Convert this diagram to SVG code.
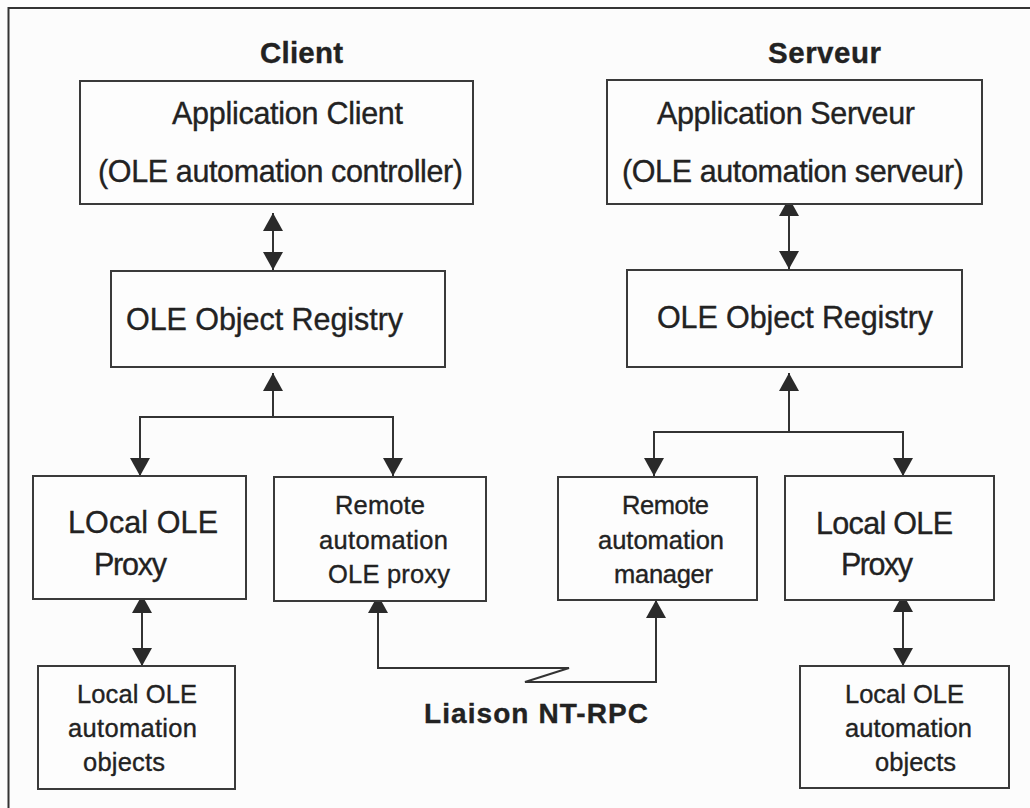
<svg xmlns="http://www.w3.org/2000/svg" width="1030" height="808" viewBox="0 0 1030 808">
<style>
.bg{fill:#fcfcfc}
.frame{fill:none;stroke:#333;stroke-width:2}
.box{fill:#fdfdfd;stroke:#3a3a3a;stroke-width:2}
.t{font-family:"Liberation Sans",Arial,sans-serif;fill:#222;stroke:#222;stroke-width:0.35;text-anchor:middle}
.lg{font-size:30.5px}
.sm{font-size:25.5px}
.title{font-size:29.5px;font-weight:bold}
.conn{fill:none;stroke:#333;stroke-width:2;marker-end:url(#arr)}
.dbl{marker-start:url(#arr)}
</style>
<defs>
<marker id="arr" viewBox="0 0 18 20" refX="18" refY="10" markerWidth="18" markerHeight="20" markerUnits="userSpaceOnUse" orient="auto-start-reverse">
<path d="M0,0 L18,10 L0,20 z" fill="#2a2a2a"/>
</marker>
</defs>
<rect class="bg" x="0" y="0" width="1030" height="808"/>
<path class="frame" d="M8.5,808 V8 H1030"/>

<g id="connectors">
<path class="conn dbl" d="M273,213 V270"/>
<path class="conn" d="M273,417 V373"/>
<path class="conn dbl" d="M140,476 V417 H393 V476"/>
<path class="conn dbl" d="M142,595 V666"/>
<path class="conn dbl" d="M789,198 V269"/>
<path class="conn" d="M789,432 V373"/>
<path class="conn dbl" d="M654,476 V432 H903 V476"/>
<path class="conn dbl" d="M903,594 V666"/>
<path class="conn dbl" d="M378,595 V668 H569 L525,682 H656 V600"/>
</g>

<g id="label-client"><text class="t title" x="301.5" y="63" textLength="83">Client</text></g>
<g id="label-serveur"><text class="t title" x="824.5" y="63" textLength="113">Serveur</text></g>
<g id="label-rpc"><text class="t title" x="536" y="723" textLength="224" style="font-size:28px">Liaison NT-RPC</text></g>

<g id="app-client">
<rect class="box" x="80" y="81" width="393" height="123"/>
<text class="t lg" x="287.5" y="124" textLength="231">Application Client</text>
<text class="t lg" x="280.5" y="182" textLength="365">(OLE automation controller)</text>
</g>
<g id="registry-client">
<rect class="box" x="111" y="271" width="334" height="96"/>
<text class="t lg" x="264.5" y="330" textLength="277">OLE Object Registry</text>
</g>
<g id="local-proxy-client">
<rect class="box" x="33" y="476" width="213" height="123"/>
<text class="t lg" x="143" y="533" textLength="150">LOcal OLE</text>
<text class="t lg" x="130.5" y="575" textLength="73">Proxy</text>
</g>
<g id="remote-proxy-client">
<rect class="box" x="274" y="477" width="212" height="124"/>
<text class="t sm" x="380" y="514" textLength="90">Remote</text>
<text class="t sm" x="383.5" y="549" textLength="129">automation</text>
<text class="t sm" x="389" y="583" textLength="122">OLE proxy</text>
</g>
<g id="local-objects-client">
<rect class="box" x="38" y="666" width="197" height="123"/>
<text class="t sm" x="137" y="703" textLength="120">Local OLE</text>
<text class="t sm" x="132.5" y="737" textLength="129">automation</text>
<text class="t sm" x="124" y="771" textLength="82">objects</text>
</g>

<g id="app-serveur">
<rect class="box" x="607" y="80" width="375" height="124"/>
<text class="t lg" x="786" y="124" textLength="258">Application Serveur</text>
<text class="t lg" x="793" y="182" textLength="342">(OLE automation serveur)</text>
</g>
<g id="registry-serveur">
<rect class="box" x="627" y="270" width="335" height="97"/>
<text class="t lg" x="795" y="328" textLength="276">OLE Object Registry</text>
</g>
<g id="remote-manager">
<rect class="box" x="558" y="477" width="199" height="123"/>
<text class="t sm" x="665.5" y="514" textLength="87">Remote</text>
<text class="t sm" x="661" y="549" textLength="126">automation</text>
<text class="t sm" x="663.5" y="583" textLength="99">manager</text>
</g>
<g id="local-proxy-serveur">
<rect class="box" x="785" y="476" width="209" height="124"/>
<text class="t lg" x="884.5" y="534" textLength="137">Local OLE</text>
<text class="t lg" x="877" y="575" textLength="72">Proxy</text>
</g>
<g id="local-objects-serveur">
<rect class="box" x="800" y="666" width="209" height="122"/>
<text class="t sm" x="904.5" y="703" textLength="119">Local OLE</text>
<text class="t sm" x="908.5" y="737" textLength="127">automation</text>
<text class="t sm" x="915.5" y="771" textLength="81">objects</text>
</g>
</svg>
